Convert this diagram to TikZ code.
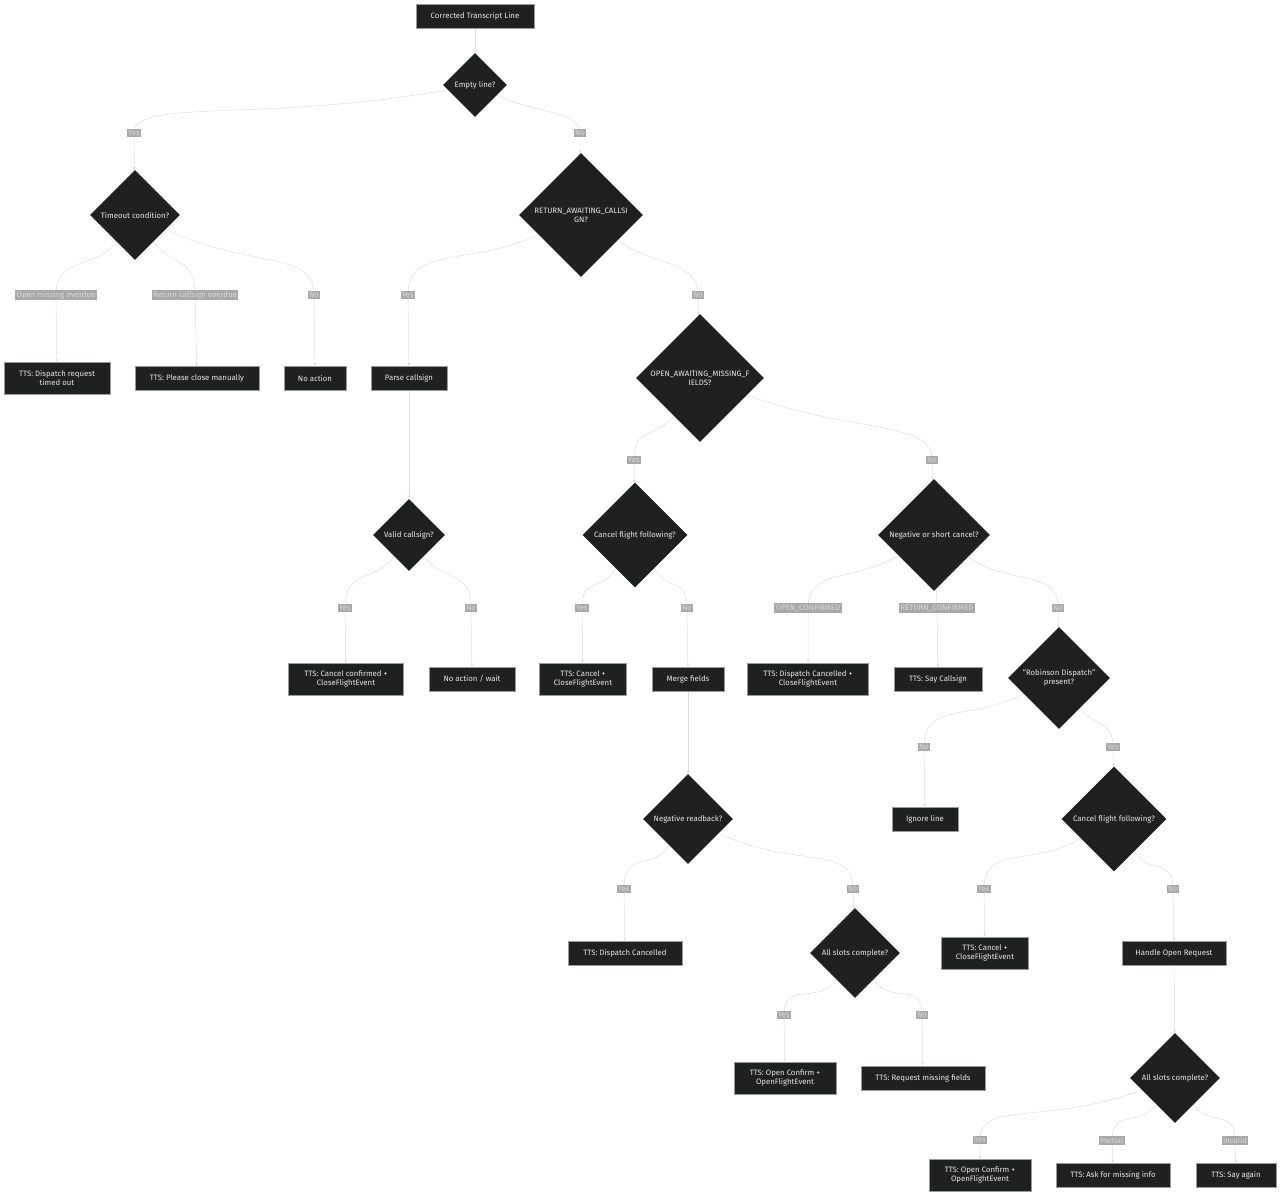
\documentclass[tikz,border=0pt]{standalone}
\usepackage{fontspec}
\setmainfont{Fira Sans}
\usetikzlibrary{shapes.geometric, arrows.meta, backgrounds}
\definecolor{nodefill}{HTML}{1F2020}
\definecolor{nodeline}{HTML}{9A9A9A}
\definecolor{nodetext}{HTML}{E6E6E6}
\definecolor{edgecol}{HTML}{DDDDDD}
\definecolor{lblfill}{HTML}{A8A8A8}
\definecolor{lbltext}{HTML}{D8D8D8}
\begin{document}
\begin{tikzpicture}[
    x=1pt, y=-1pt,
    font=\fontsize{7.8}{9}\selectfont,
    block/.style={rectangle, draw=nodeline, line width=0.5pt, fill=nodefill, text=nodetext, align=center, minimum height=24, inner sep=1pt},
    tall/.style={block, minimum height=32},
    decide/.style={diamond, fill=nodefill, text=nodetext, align=center, inner sep=0pt, aspect=1},
    lbl/.style={rectangle, fill=lblfill, text=lbltext, inner sep=1.4pt},
    arrow/.style={-{Stealth[length=3.5pt, width=3pt]}, draw=edgecol, line width=0.5pt}
]
\useasboundingbox (0,0) rectangle (1280,1195);

% Top
\node[block, minimum width=118] (start) at (475, 16) {Corrected Transcript Line};
\node[decide, minimum size=64] (empty) at (475, 85) {Empty line?};

% Second level
\node[decide, minimum size=90] (timeout) at (135, 215) {Timeout condition?};
\node[decide, minimum size=124] (retwait) at (581, 215) {RETURN\_AWAITING\_CALLSI\\GN?};

% Timeout results
\node[tall, minimum width=106] (timedout) at (57, 378) {TTS: Dispatch request\\timed out};
\node[block, minimum width=124] (closeman) at (197, 378) {TTS: Please close manually};
\node[block, minimum width=62] (noact) at (315, 378) {No action};
\node[block, minimum width=76] (parse) at (409, 378) {Parse callsign};
\node[decide, minimum size=128] (openwait) at (700, 378) {OPEN\_AWAITING\_MISSING\_F\\IELDS?};

% Third level decisions
\node[decide, minimum size=72] (valid) at (409, 535) {Valid callsign?};
\node[decide, minimum size=105] (cancelA) at (635, 535) {Cancel flight following?};
\node[decide, minimum size=112] (negshort) at (934, 535) {Negative or short cancel?};

% Row of results
\node[tall, minimum width=115] (cconf) at (346, 679) {TTS: Cancel confirmed +\\CloseFlightEvent};
\node[block, minimum width=86] (wait) at (472, 679) {No action / wait};
\node[tall, minimum width=87] (cancelttsA) at (583, 679) {TTS: Cancel +\\CloseFlightEvent};
\node[block, minimum width=72] (merge) at (688, 679) {Merge fields};
\node[tall, minimum width=121] (dcancA) at (808, 679) {TTS: Dispatch Cancelled +\\CloseFlightEvent};
\node[block, minimum width=88] (saycall) at (938, 679) {TTS: Say Callsign};
\node[decide, minimum size=102] (robinson) at (1059, 678) {“Robinson Dispatch”\\present?};

% Lower decisions
\node[decide, minimum size=90] (negread) at (688, 819) {Negative readback?};
\node[block, minimum width=66] (ignore) at (925, 819) {Ignore line};
\node[decide, minimum size=105] (cancelB) at (1114, 819) {Cancel flight following?};

\node[block, minimum width=114] (dcancB) at (625, 953) {TTS: Dispatch Cancelled};
\node[decide, minimum size=90] (slotsA) at (855, 953) {All slots complete?};
\node[tall, minimum width=87] (cancelttsB) at (985, 953) {TTS: Cancel +\\CloseFlightEvent};
\node[block, minimum width=104] (handle) at (1174, 953) {Handle Open Request};

\node[tall, minimum width=102] (oconfA) at (785, 1078) {TTS: Open Confirm +\\OpenFlightEvent};
\node[block, minimum width=124] (reqmiss) at (923, 1078) {TTS: Request missing fields};
\node[decide, minimum size=90] (slotsB) at (1175, 1078) {All slots complete?};

\node[tall, minimum width=102] (oconfB) at (980, 1175) {TTS: Open Confirm +\\OpenFlightEvent};
\node[block, minimum width=114] (askmiss) at (1113, 1175) {TTS: Ask for missing info};
\node[block, minimum width=80] (sayagain) at (1236, 1175) {TTS: Say again};

% Edge labels
\node[lbl] (l1) at (134, 133) {Yes};
\node[lbl] (l2) at (580, 133) {No};
\node[lbl] (l3) at (56, 295) {Open missing overdue};
\node[lbl] (l4) at (195, 295) {Return callsign overdue};
\node[lbl] (l5) at (314, 295) {No};
\node[lbl] (l6) at (408, 295) {Yes};
\node[lbl] (l7) at (698, 295) {No};
\node[lbl] (l8) at (634, 460) {Yes};
\node[lbl] (l9) at (932, 460) {No};
\node[lbl] (l10) at (345, 608) {Yes};
\node[lbl] (l11) at (471, 608) {No};
\node[lbl] (l12) at (582, 608) {Yes};
\node[lbl] (l13) at (687, 608) {No};
\node[lbl] (l14) at (808, 608) {OPEN\_CONFIRMED};
\node[lbl] (l15) at (937, 608) {RETURN\_CONFIRMED};
\node[lbl] (l16) at (1058, 608) {No};
\node[lbl] (l17) at (924, 747) {No};
\node[lbl] (l18) at (1113, 747) {Yes};
\node[lbl] (l19) at (624, 889) {Yes};
\node[lbl] (l20) at (853, 889) {No};
\node[lbl] (l21) at (984, 889) {Yes};
\node[lbl] (l22) at (1173, 889) {No};
\node[lbl] (l23) at (784, 1015) {Yes};
\node[lbl] (l24) at (922, 1015) {No};
\node[lbl] (l25) at (980, 1140) {Yes};
\node[lbl] (l26) at (1112, 1140) {Partial};
\node[lbl] (l27) at (1235, 1140) {Invalid};

% Arrows
\begin{scope}[on background layer]
\draw[arrow] (start) -- (empty);
\draw[arrow] (empty) to[out=190, in=90, out distance=190pt, in distance=35pt] (l1.center) -- (timeout);
\draw[arrow] (empty) to[out=-25, in=90, out distance=45pt, in distance=22pt] (l2.center) -- (retwait);

\draw[arrow] (timeout) to[out=235, in=90, out distance=35pt, in distance=40pt] (l3.center) -- (timedout);
\draw[arrow] (timeout) to[out=-55, in=90, out distance=32pt, in distance=40pt] (l4.center) -- (closeman);
\draw[arrow] (timeout) to[out=-25, in=90, out distance=95pt, in distance=45pt] (l5.center) -- (noact);

\draw[arrow] (retwait) to[out=205, in=90, out distance=75pt, in distance=50pt] (l6.center) -- (parse);
\draw[arrow] (retwait) to[out=-35, in=90, out distance=45pt, in distance=35pt] (l7.center) -- (openwait);
\draw[arrow] (parse) -- (valid);

\draw[arrow] (openwait) to[out=235, in=90, out distance=28pt, in distance=35pt] (l8.center) -- (cancelA);
\draw[arrow] (openwait) to[out=-20, in=90, out distance=115pt, in distance=40pt] (l9.center) -- (negshort);

\draw[arrow] (valid) to[out=235, in=90, out distance=32pt, in distance=40pt] (l10.center) -- (cconf);
\draw[arrow] (valid) to[out=-55, in=90, out distance=32pt, in distance=40pt] (l11.center) -- (wait);
\draw[arrow] (cancelA) to[out=240, in=90, out distance=28pt, in distance=32pt] (l12.center) -- (cancelttsA);
\draw[arrow] (cancelA) to[out=-60, in=90, out distance=28pt, in distance=32pt] (l13.center) -- (merge);

\draw[arrow] (negshort) to[out=210, in=90, out distance=55pt, in distance=40pt] (l14.center) -- (dcancA);
\draw[arrow] (negshort) -- (l15.center) -- (saycall);
\draw[arrow] (negshort) to[out=-33, in=90, out distance=55pt, in distance=40pt] (l16.center) -- (robinson);

\draw[arrow] (merge) -- (negread);
\draw[arrow] (robinson) to[out=205, in=90, out distance=65pt, in distance=45pt] (l17.center) -- (ignore);
\draw[arrow] (robinson) to[out=-55, in=90, out distance=22pt, in distance=28pt] (l18.center) -- (cancelB);

\draw[arrow] (negread) to[out=235, in=90, out distance=32pt, in distance=40pt] (l19.center) -- (dcancB);
\draw[arrow] (negread) to[out=-25, in=90, out distance=85pt, in distance=45pt] (l20.center) -- (slotsA);
\draw[arrow] (cancelB) to[out=210, in=90, out distance=60pt, in distance=45pt] (l21.center) -- (cancelttsB);
\draw[arrow] (cancelB) to[out=-58, in=90, out distance=28pt, in distance=32pt] (l22.center) -- (handle);

\draw[arrow] (slotsA) to[out=235, in=90, out distance=32pt, in distance=35pt] (l23.center) -- (oconfA);
\draw[arrow] (slotsA) to[out=-55, in=90, out distance=32pt, in distance=35pt] (l24.center) -- (reqmiss);
\draw[arrow] (handle) -- (slotsB);

\draw[arrow] (slotsB) to[out=200, in=90, out distance=105pt, in distance=40pt] (l25.center) -- (oconfB);
\draw[arrow] (slotsB) to[out=235, in=90, out distance=28pt, in distance=32pt] (l26.center) -- (askmiss);
\draw[arrow] (slotsB) to[out=-55, in=90, out distance=28pt, in distance=32pt] (l27.center) -- (sayagain);
\end{scope}

\end{tikzpicture}
\end{document}
